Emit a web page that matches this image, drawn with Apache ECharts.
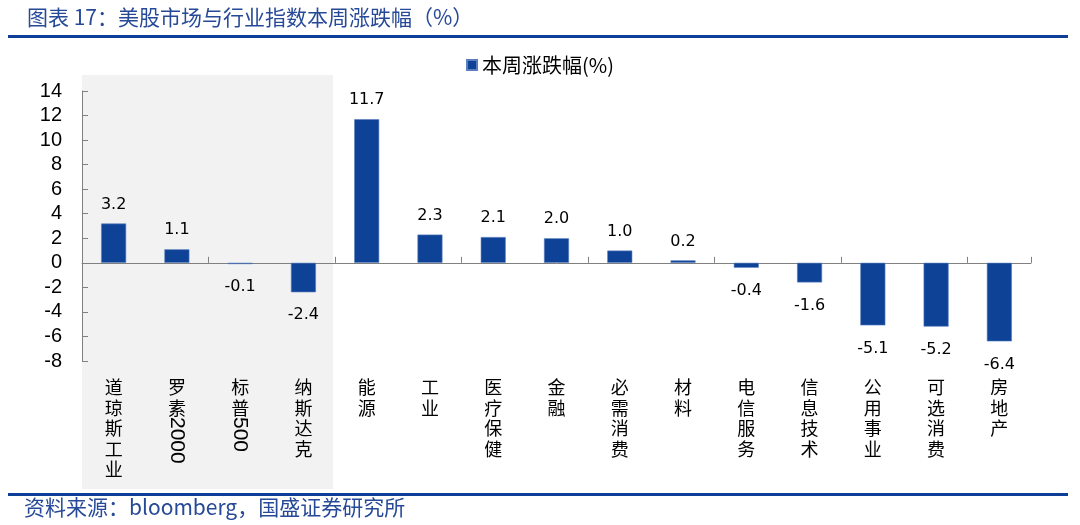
<!DOCTYPE html>
<html><head><meta charset="utf-8">
<script src="https://cdn.jsdelivr.net/npm/echarts@6/dist/echarts.min.js"></script>
<style>html,body{margin:0;padding:0;background:#fff}#c{width:1080px;height:525px}</style>
</head><body><div id="c"></div>
<script>
const categories = ['道琼斯工业','罗素2000','标普500','纳斯达克','能源','工业','医疗保健','金融','必需消费','材料','电信服务','信息技术','公用事业','可选消费','房地产'];
const values = [3.2, 1.1, -0.1, -2.4, 11.7, 2.3, 2.1, 2.0, 1.0, 0.2, -0.4, -1.6, -5.1, -5.2, -6.4];
const seriesName = '本周涨跌幅(%)';
const titleText = '图表 17：美股市场与行业指数本周涨跌幅（%）';
const sourceText = '资料来源：bloomberg，国盛证券研究所';
const yTicks = {min: -8, max: 14, interval: 2};

const BLUE = '#0e4297';
const TXT = '#274a98';
const chart = echarts.init(document.getElementById('c'));

function splitLabel(s){
  const m = s.match(/^(\D+)(\d+)$/);
  const cjk = m ? m[1] : s;
  return cjk.split('').join('\n');
}

chart.setOption({
  animation: false,
  backgroundColor: '#fff',
  title: {
    text: titleText, left: 22, top: 2,
    textStyle: {fontFamily: 'Noto Sans CJK SC', fontSize: 21, fontWeight: 'normal', color: TXT}
  },
  legend: {
    data: [seriesName], top: 50, left: 'center', itemWidth: 10, itemHeight: 10, itemGap: 6,
    icon: 'rect',
    textStyle: {fontFamily: 'Noto Sans CJK SC', fontSize: 20, color: '#000'}
  },
  grid: {left: 82, right: 49, top: 91, bottom: 164, containLabel: false},
  xAxis: [{
    type: 'category', data: categories, position: 'bottom',
    axisLine: {onZero: true, lineStyle: {color: '#808080', width: 1}},
    axisTick: {show: true, inside: true, length: 6, lineStyle: {color: '#808080'}},
    axisLabel: {show: false}
  }, {
    type: 'category', data: categories, position: 'bottom',
    axisLine: {show: false, onZero: false}, axisTick: {show: false},
    axisLabel: {
      show: true, interval: 0, margin: 16, color: '#000',
      fontFamily: 'Noto Sans CJK SC', fontSize: 18, lineHeight: 20.5,
      verticalAlign: 'top',
      formatter: v => splitLabel(v)
    }
  }],
  yAxis: {
    type: 'value', min: yTicks.min, max: yTicks.max, interval: yTicks.interval,
    axisLine: {show: true, lineStyle: {color: '#808080'}},
    axisTick: {show: true, inside: true, length: 6, lineStyle: {color: '#808080'}},
    splitLine: {show: false},
    axisLabel: {margin: 20, color: '#000', fontFamily: 'Liberation Sans', fontSize: 20}
  },
  series: [{
    name: seriesName, type: 'bar', xAxisIndex: 0, barWidth: 25,
    itemStyle: {color: BLUE, borderColor: '#5a7fbf', borderWidth: 0.6},
    data: values.map(v => ({
      value: v,
      label: {show: true, position: v >= 0 ? 'top' : 'bottom', distance: v >= 0 ? 11 : 15,
        formatter: p => p.value.toFixed(1),
        fontFamily: 'DejaVu Sans', fontSize: 16, color: '#000'}
    }))
  }]
});

const gfx = [
  {type: 'rect', shape: {x: 82, y: 75, width: 251, height: 414}, style: {fill: '#f2f2f2'}, z: -10, silent: true},
  {type: 'rect', shape: {x: 8, y: 35, width: 1060, height: 3}, style: {fill: '#0d3f98'}, z: 10},
  {type: 'rect', shape: {x: 8, y: 493, width: 1060, height: 3}, style: {fill: '#0d3f98'}, z: 10},
  {type: 'text', x: 24, y: 497, style: {text: sourceText, font: '21px "Noto Sans CJK SC"', fill: TXT}, z: 10}
];
categories.forEach((c, i) => {
  const m = c.match(/^(\D+)(\d+)$/);
  if (m) {
    const px = chart.convertToPixel({xAxisIndex: 0}, c);
    const nChars = m[1].length;
    gfx.push({type: 'text', x: px, y: 377 + nChars * 20.5 - 1, rotation: -Math.PI / 2,
      style: {text: m[2], font: '21px "Liberation Sans"', fill: '#000', textAlign: 'left', textVerticalAlign: 'middle'}, z: 10});
  }
});
chart.setOption({graphic: gfx});
</script></body></html>
